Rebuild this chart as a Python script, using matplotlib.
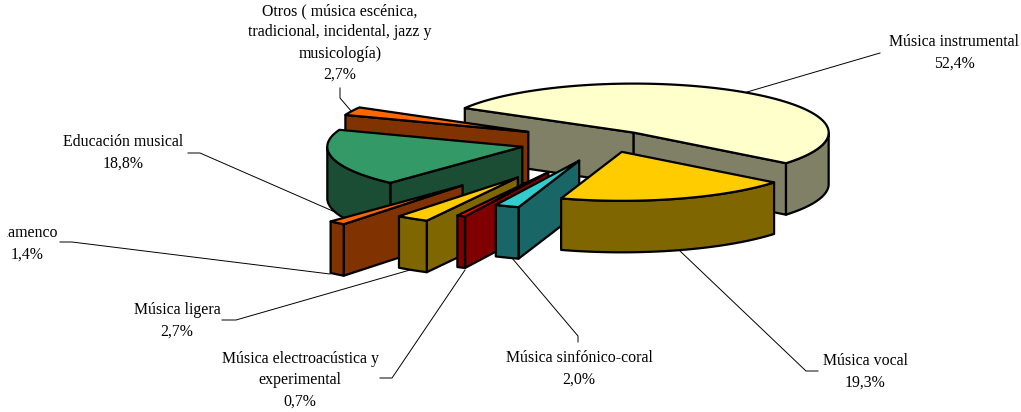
import numpy as np
import matplotlib
matplotlib.use("Agg")
import matplotlib.pyplot as plt
from matplotlib.patches import Polygon, Rectangle

#Values are percentages, clockwise from the first slice
categories = ["Música instrumental", "Música vocal", "Música sinfónico-coral",
              "Música electroacústica y\nexperimental", "Música ligera", "Flamenco",
              "Educación musical",
              "Otros ( música escénica,\ntradicional, incidental, jazz y\nmusicología)"]
values = [52.4, 19.3, 2.0, 0.7, 2.7, 1.4, 18.8, 2.7]
value_labels = ["52,4%", "19,3%", "2,0%", "0,7%", "2,7%", "1,4%", "18,8%", "2,7%"]
explode = [0.22, 0.22, 0.42, 0.70, 0.87, 1.17, 0.46, 0.46]

top_colors = ["#FFFFCC", "#FFCC00", "#33CCCC", "#FF0000", "#FFCC00", "#FF6600", "#339966", "#FF6600"]
side_colors = ["#808066", "#806600", "#196666", "#800000", "#806600", "#803300", "#1A4D33", "#803300"]

#Pie geometry in pixels
cx, cy = 609.5, 141.5
rx, ry = 195.0, 49.0
depth = 51.5
start_angle = 150.0
#Back to front, so the nearer slices cover the others
draw_order = [0, 7, 6, 5, 4, 3, 2, 1]

#Label centres and leader lines
label_pos = [(954, 53), (865, 372), (579, 369), (300, 380), (177, 321), (27, 244), (123, 153), (340, 43)]
leaders = [[(880, 53), (747, 92)],
           [(818, 371), (806, 371), (680, 251)],
           [(578, 342), (578, 336), (512, 258)],
           [(380, 378), (392, 378), (465, 270)],
           [(222, 320), (236, 320), (410, 270)],
           [(60, 242), (72, 242), (330, 274)],
           [(188, 153), (200, 153), (335, 212)],
           [(340, 88), (340, 98), (352, 112)]]

plt.rcParams['font.family'] = ['Liberation Serif', 'DejaVu Serif']

fig = plt.figure(figsize=(10.21, 4.12), dpi=100)
ax = fig.add_axes([0, 0, 1, 1])
ax.set_xlim(0, 1021)
ax.set_ylim(412, 0)
ax.axis("off")

angles = start_angle - np.concatenate([[0], np.cumsum(values)]) * 3.6


def rim_point(apex, deg):
    rad = np.radians(deg)
    return apex[0] + rx * np.cos(rad), apex[1] - ry * np.sin(rad)


def add_face(points, color, z):
    ax.add_patch(Polygon(points, closed=True, facecolor=color, edgecolor="black",
                         linewidth=1.6, joinstyle="round", zorder=z))


#Leader lines sit behind the slices
for line in leaders:
    xs, ys = zip(*line)
    ax.plot(xs, ys, color="black", linewidth=0.7, zorder=1)

z = 2
for i in draw_order:
    a1, a2 = angles[i], angles[i + 1]
    mid = np.radians((a1 + a2) / 2)
    apex = (cx + explode[i] * rx * np.cos(mid), cy - explode[i] * ry * np.sin(mid))
    bottom = (apex[0], apex[1] + depth)

    #The cut faces that look towards the viewer
    for a, visible in [(a1, np.cos(np.radians(a1)) < 0), (a2, np.cos(np.radians(a2)) > 0)]:
        if visible:
            p = rim_point(apex, a)
            add_face([apex, p, (p[0], p[1] + depth), bottom], side_colors[i], z)
            z += 1

    #Outer wall, only the near half of the rim
    arc = np.linspace(a1, a2, 200)
    arc = arc[np.sin(np.radians(arc)) < 0]
    if len(arc) > 1:
        xs, ys = rim_point(apex, arc)
        wall = list(zip(xs, ys)) + list(zip(xs[::-1], ys[::-1] + depth))
        add_face(wall, side_colors[i], z)
        z += 1

    #Top of the slice
    xs, ys = rim_point(apex, np.linspace(a1, a2, 200))
    add_face([apex] + list(zip(xs, ys)), top_colors[i], z)
    z += 1

clip = Rectangle((7, 0), 1014, 412, transform=ax.transData)
for i in range(len(categories)):
    t = ax.text(label_pos[i][0], label_pos[i][1], categories[i] + "\n" + value_labels[i],
                ha="center", va="center", multialignment="center", fontsize=11.4,
                linespacing=1.45, color="black", zorder=100)
    t.set_clip_path(clip)
    t.set_clip_on(True)

fig.savefig("out.png", dpi=100, facecolor="white")
